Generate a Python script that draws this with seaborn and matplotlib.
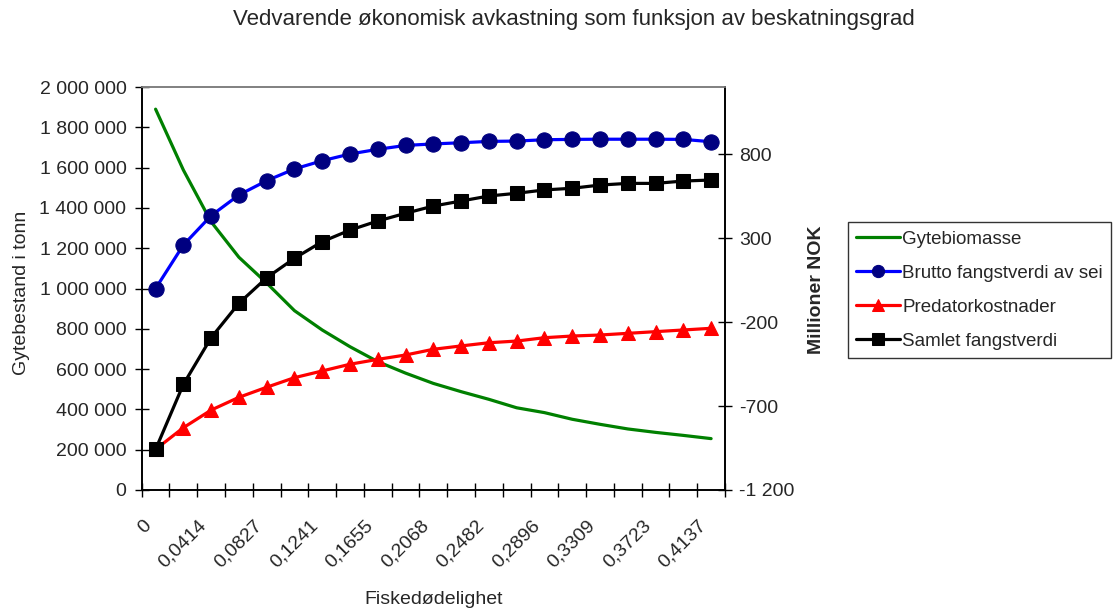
import numpy as np
import pandas as pd
import seaborn as sns
import matplotlib.pyplot as plt
from matplotlib.ticker import FixedLocator, FuncFormatter
from matplotlib.transforms import ScaledTranslation

# Fishing mortality (category axis)
fiskedodelighet = ["0", "0,0207", "0,0414", "0,0621", "0,0827", "0,1034", "0,1241",
                   "0,1448", "0,1655", "0,1862", "0,2068", "0,2275", "0,2482", "0,2689",
                   "0,2896", "0,3103", "0,3309", "0,3516", "0,3723", "0,3930", "0,4137"]

# Spawning stock biomass, tonnes (left axis)
gytebiomasse = [1890000, 1588000, 1331000, 1155000, 1027000, 890000, 794000, 711000,
                637000, 580000, 529000, 488000, 450000, 408000, 384000, 351000,
                326000, 303000, 286000, 271000, 255000]

# Values in million NOK (right axis)
brutto = [0, 259, 434, 557, 642, 712, 761, 801, 829, 852, 861, 868, 876, 878,
          886, 888, 889, 889, 889, 888, 874]
predator = [-958, -829, -724, -648, -588, -531, -491, -451, -422, -396, -362, -342,
            -323, -313, -293, -283, -277, -267, -257, -247, -237]
samlet = [-958, -571, -293, -88, 64, 180, 279, 348, 402, 448, 491, 521, 551, 567,
          587, 597, 616, 626, 626, 640, 646]

sns.set_theme(style="white")
plt.rcParams["font.family"] = ["Liberation Sans", "DejaVu Sans"]
FS = 14

df = pd.DataFrame({
    "pos": np.arange(len(fiskedodelighet)),
    "label": fiskedodelighet,
    "Gytebiomasse": gytebiomasse,
    "Brutto fangstverdi av sei": brutto,
    "Predatorkostnader": predator,
    "Samlet fangstverdi": samlet,
})

fig = plt.figure(figsize=(11.16, 6.13), dpi=100)
L, R, B, T = 141.7, 725.0, 490.0, 87.0
W, H = 1116.0, 613.0
ax = fig.add_axes([L / W, 1 - B / H, (R - L) / W, (B - T) / H])
ax2 = ax.twinx()

lw = 2.3
sns.lineplot(data=df, x="pos", y="Gytebiomasse", ax=ax, color="#008000",
             linewidth=lw, label="Gytebiomasse", legend=False)
sns.lineplot(data=df, x="pos", y="Brutto fangstverdi av sei", ax=ax2, color="#0000FF",
             linewidth=lw, marker="o", markersize=11, markerfacecolor="#000080",
             markeredgecolor="#000080", label="Brutto fangstverdi av sei", legend=False)
sns.lineplot(data=df, x="pos", y="Predatorkostnader", ax=ax2, color="#FF0000",
             linewidth=lw, marker="^", markersize=10.5, markerfacecolor="#FF0000",
             markeredgecolor="#FF0000", label="Predatorkostnader", legend=False)
sns.lineplot(data=df, x="pos", y="Samlet fangstverdi", ax=ax2, color="#000000",
             linewidth=lw, marker="s", markersize=10.5, markerfacecolor="#000000",
             markeredgecolor="#000000", label="Samlet fangstverdi", legend=False)

n = len(fiskedodelighet)
ax.set_xlim(-0.5, n - 0.5)
ax.set_ylim(0, 2_000_000)
ax2.set_ylim(-1200, 1200)

def spaced(v, _pos=None):
    s = f"{abs(int(round(v))):,}".replace(",", " ")
    return ("-" if v < 0 else "") + s

ax.yaxis.set_major_locator(FixedLocator(np.arange(0, 2_000_001, 200_000)))
ax.yaxis.set_major_formatter(FuncFormatter(spaced))
ax2.yaxis.set_major_locator(FixedLocator([-1200, -700, -200, 300, 800]))
ax2.yaxis.set_major_formatter(FuncFormatter(spaced))

# Tick marks sit between categories; labels on every second category
ax.set_xticks(np.arange(-0.5, n, 1.0))
ax.set_xticklabels([])
label_pos = df["pos"].to_numpy()[::2]
ax.set_xticks(label_pos, minor=True)
ax.set_xticklabels(df["label"].to_numpy()[::2], minor=True, rotation=45,
                   ha="right", va="baseline", rotation_mode="anchor")

ax.tick_params(axis="x", which="major", direction="inout", length=10, width=1,
               color="black", bottom=True)
ax.tick_params(axis="x", which="minor", length=0, pad=26, labelsize=FS, bottom=True)
ax.tick_params(axis="y", direction="inout", length=10, width=1, color="black",
               left=True, labelsize=FS, pad=6)
ax2.tick_params(axis="y", direction="inout", length=10, width=1, color="black",
                right=True, labelsize=FS, pad=5)

# nudge the rotated category labels slightly left of their category centre
shift = ScaledTranslation(-4 / 100, 0, fig.dpi_scale_trans)
for tk in ax.xaxis.get_minor_ticks():
    tk.label1.set_transform(tk.label1.get_transform() + shift)

for a in (ax, ax2):
    a.grid(False)
    for side in ("left", "bottom", "right"):
        a.spines[side].set_color("black")
        a.spines[side].set_linewidth(1.2)
    a.spines["top"].set_color("#808080")
    a.spines["top"].set_linewidth(1.2)

ax.set_xlabel("Fiskedødelighet", fontsize=FS, va="center")
ax.xaxis.set_label_coords(0.5, (B - 600) / (B - T))
ax.set_ylabel("Gytebestand i tonn", fontsize=FS)
ax.yaxis.set_label_coords((30 - L) / (R - L), 0.49)
ax2.set_ylabel("Millioner NOK", fontsize=FS, fontweight="bold")
ax2.yaxis.set_label_coords((808 - L) / (R - L), 0.496)

fig.text(574 / W, 1 - 20 / H, "Vedvarende økonomisk avkastning som funksjon av beskatningsgrad",
         ha="center", va="center", fontsize=16)

LFS = 13.5
handles = ax.get_lines()[:1] + ax2.get_lines()[:3]
labels = ["Gytebiomasse", "Brutto fangstverdi av sei", "Predatorkostnader",
          "Samlet fangstverdi"]
leg = fig.legend(handles, labels, loc="upper left", bbox_to_anchor=(848 / W, 1 - 222 / H),
                 borderaxespad=0, frameon=True, fancybox=False, fontsize=LFS,
                 handlelength=2.3, handletextpad=0.15, labelspacing=0.9,
                 borderpad=0.45, markerscale=0.8)
leg.get_frame().set_edgecolor("black")
leg.get_frame().set_linewidth(1.0)

fig.savefig("out.png", dpi=100)
